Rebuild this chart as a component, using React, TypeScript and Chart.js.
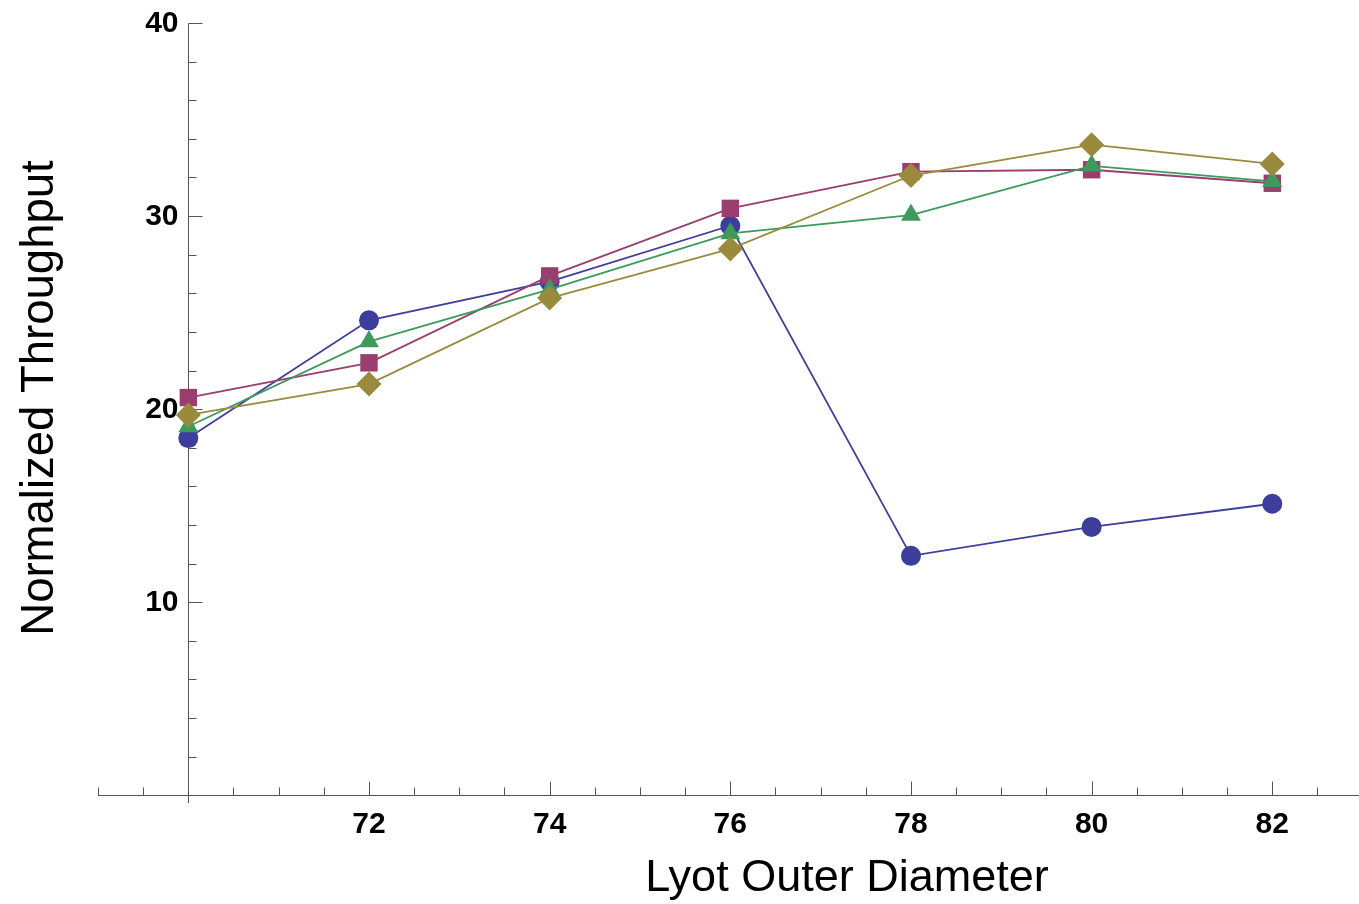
import React, { useEffect, useRef } from 'react';
import { Chart, registerables } from 'chart.js';

Chart.register(...registerables);

const diameters = [70, 72, 74, 76, 78, 80, 82];
const seriesBlue = [18.5, 24.6, 26.6, 29.5, 12.4, 13.9, 15.1];
const seriesMagenta = [20.6, 22.4, 26.9, 30.4, 32.3, 32.4, 31.7];
const seriesGreen = [19.1, 23.5, 26.2, 29.1, 30.05, 32.6, 31.8];
const seriesGold = [19.7, 21.3, 25.75, 28.3, 32.1, 33.7, 32.7];
const xTickLabels = [72, 74, 76, 78, 80, 82];
const yTickLabels = [10, 20, 30, 40];
const xTitle = 'Lyot Outer Diameter';
const yTitle = 'Normalized Throughput';

const toPoints = (ys: number[]) => diameters.map((x, i) => ({ x, y: ys[i] }));

const axesPlugin = {
  id: 'mathematicaAxes',
  beforeDatasetsDraw(chart: any) {
    const ctx = chart.ctx as CanvasRenderingContext2D;
    const xs = chart.scales.x;
    const ys = chart.scales.y;
    const x0 = Math.round(xs.getPixelForValue(70)) + 0.5;
    const y0 = Math.round(ys.getPixelForValue(0)) + 0.5;
    ctx.save();
    ctx.strokeStyle = '#555555';
    ctx.lineWidth = 1;
    const line = (a: number, b: number, c: number, d: number) => {
      ctx.beginPath();
      ctx.moveTo(a, b);
      ctx.lineTo(c, d);
      ctx.stroke();
    };
    // axes
    line(xs.left, y0, chart.width, y0);
    line(x0, Math.round(ys.getPixelForValue(40)) + 0.5, x0, ys.bottom);
    // x ticks
    for (let k = 0; k <= 28; k++) {
      const v = 69 + k * 0.5;
      if (v === 70) continue;
      const px = Math.round(xs.getPixelForValue(v)) + 0.5;
      if (px > chart.width) continue;
      const major = v % 2 === 0;
      line(px, y0, px, y0 - (major ? 14 : 8));
    }
    // y ticks
    for (let v = 0; v <= 40; v += 2) {
      const py = Math.round(ys.getPixelForValue(v)) + 0.5;
      const major = v % 10 === 0;
      line(x0, py, x0 + (major ? 14 : 8), py);
    }
    // tick labels
    ctx.fillStyle = '#000000';
    ctx.font = 'bold 30px "Liberation Sans", Arial, sans-serif';
    ctx.textAlign = 'center';
    ctx.textBaseline = 'middle';
    xTickLabels.forEach((v) => {
      ctx.fillText(String(v), xs.getPixelForValue(v), y0 + 29);
    });
    ctx.textAlign = 'right';
    yTickLabels.forEach((v) => {
      ctx.fillText(String(v), x0 - 10, ys.getPixelForValue(v) + 1);
    });
    // titles
    ctx.font = '45px "Liberation Sans", Arial, sans-serif';
    ctx.textAlign = 'center';
    ctx.textBaseline = 'alphabetic';
    ctx.fillText(xTitle, 847, 891);
    ctx.save();
    ctx.font = '45.5px "Liberation Sans", Arial, sans-serif';
    ctx.translate(53, 398);
    ctx.rotate(-Math.PI / 2);
    ctx.fillText(yTitle, 0, 0);
    ctx.restore();
    ctx.restore();
  },
};

export default function App() {
  const canvasRef = useRef<HTMLCanvasElement | null>(null);

  useEffect(() => {
    if (!canvasRef.current) return;
    const mk = (data: number[], color: string, style: any, radius: number, order: number) => ({
      data: toPoints(data),
      borderColor: color,
      backgroundColor: color,
      borderWidth: 1.8,
      pointStyle: style,
      pointRadius: radius,
      pointBackgroundColor: color,
      pointBorderWidth: 0,
      pointHoverRadius: radius,
      showLine: true,
      tension: 0,
      clip: false as any,
      order,
    });
    const chart = new Chart(canvasRef.current, {
      type: 'scatter',
      data: {
        datasets: [
          mk(seriesBlue, '#3d3d9b', 'circle', 10, 4),
          mk(seriesMagenta, '#9a3d6f', 'rect', 12.3, 3),
          mk(seriesGreen, '#3d9a5a', 'triangle', 11.5, 2),
          mk(seriesGold, '#9a8a3d', 'rectRot', 12.5, 1),
        ] as any,
      },
      options: {
        responsive: false,
        animation: false,
        layout: { autoPadding: false, padding: { left: 98, right: 0, top: 23, bottom: 101 } },
        plugins: { legend: { display: false }, tooltip: { enabled: false } },
        events: [],
        scales: {
          x: { type: 'linear', min: 69, max: 82.96, display: false },
          y: { type: 'linear', min: -0.4, max: 40, display: false },
        },
      },
      plugins: [axesPlugin],
    });
    return () => chart.destroy();
  }, []);

  return (
    <div style={{ position: 'fixed', left: 0, top: 0, width: 1359, height: 904, background: '#ffffff' }}>
      <canvas ref={canvasRef} width={1359} height={904} style={{ width: 1359, height: 904, display: 'block' }} />
    </div>
  );
}
